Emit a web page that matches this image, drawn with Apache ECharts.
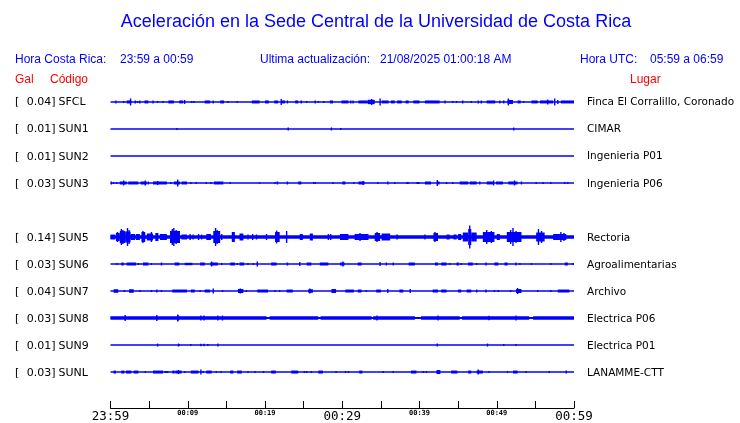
<!DOCTYPE html>
<html><head><meta charset="utf-8">
<script src="https://cdn.jsdelivr.net/npm/echarts@6/dist/echarts.min.js"></script>
<style>html,body{margin:0;padding:0;background:#fff}#c{width:740px;height:423px}</style>
</head><body><div id="c"></div>
<script>
// ---- data ----
var codes = ['SFCL','SUN1','SUN2','SUN3','SUN5','SUN6','SUN7','SUN8','SUN9','SUNL'];
var peaks = ['0.04','0.01','0.01','0.03','0.14','0.03','0.04','0.03','0.01','0.03'];
var places = ['Finca El Corralillo, Coronado','CIMAR','Ingenieria P01','Ingenieria P06','Rectoria','Agroalimentarias','Archivo','Electrica P06','Electrica P01','LANAMME-CTT'];
var slots = [0,1,2,3,5,6,7,8,9,10];            // trace row (row 4 = SUN4, absent)
var baseAmp = [0.8,0.8,0.8,0.8,1.7,0.8,0.8,1.0,0.8,0.8];
var tickMinutes = [0,5,10,15,20,25,30,35,40,45,50,55,60];
var tickLabels = ['23:59','','00:09','','00:19','','00:29','','00:39','','00:49','','00:59'];
// envelope events per station: [t,a] spike, [t0,t1,a] burst (minutes, half-amplitude)
var evSFCL = [[0.7,1.5],[1.7,1],[2.1,2.7,1.5],[2.6,3.5],[3.2,1.5],[3.5,1],[3.8,1.5],[4.4,4.9,1.5],[5.5,1.5],[6.1,1],[6.8,1],[7.5,8.2,1.5],[8.9,9.4,1.5],[9.6,2],[10.5,1],[10.8,1],[12.2,12.9,1.5],[13.3,1.5],[14.2,14.7,1.5],[15.2,1],[16.4,1],[18.3,19.3,1.5],[20,20.5,1.5],[21.2,21.7,1.5],[22.1,22.6,1.5],[22.1,3],[22.9,1.5],[23.9,24.3,1.5],[24.6,24.8,1.5],[25.4,1],[26.5,1.5],[26.9,1],[27.6,1],[28.4,28.8,1.5],[29.9,30.8,1.5],[31.1,1.5],[31.4,1.5],[32.1,33.3,1.5],[33.3,34.2,2.2],[33.8,3],[34.9,3.5],[35.1,36,1.5],[36.3,36.8,1.5],[37.1,37.7,1.5],[38.2,38.6,1.5],[39.2,40.0,1.5],[40.7,42.6,1.5],[43.3,1.5],[44.3,1],[44.8,1],[45.6,1.5],[46.7,1],[47.6,1.5],[48,1.5],[48.7,49.8,1.5],[50.4,1.5],[50.8,51.0,1.5],[51.4,52.1,2],[51.5,3.5],[52.7,53.1,1.5],[53.5,1],[54.5,55.3,1.5],[55.6,57.3,1.5],[56.6,2.5],[57.5,3.5],[57.9,2],[58.3,60,1.5]];
var evSUN1 = [[8.6,1],[23.0,1.5],[28.6,1.5],[29.8,1],[52.2,1.5]];
var evSUN2 = [];
var evSUN3 = [[0.1,1.5],[0.4,1],[0.8,1],[1.2,2.1,1.5],[1.7,2.5],[2.3,3.6,1.5],[3.9,4.7,1.5],[4.5,2.5],[4.9,1.5],[5.5,7.3,1.5],[6.1,2],[7.7,7.9,1],[8.2,9,1.5],[8.7,3.5],[9.2,9.9,1.5],[10.4,1],[11.1,1],[12.4,1],[13,1],[13.4,14.6,1.5],[15.5,1],[19.3,0.8],[21.3,1],[21.5,21.7,1.5],[22.9,1.5],[24.3,24.7,1.5],[26.3,1],[26.5,1],[28.8,1],[30.0,30.4,1.5],[31.5,1],[32.1,32.9,1.5],[32.7,2],[34.6,1],[35.9,1.5],[36.8,1],[38.3,38.6,1],[39.6,40.0,1],[40.7,41.5,1.5],[42.3,42.6,1.5],[42.3,3],[43.5,1],[44.3,1],[45.2,46.3,1.5],[46.5,47.4,1.5],[47.8,1.5],[48.7,49.5,1.5],[49.6,2.5],[49.9,50.8,1.5],[51.5,52.7,1.5],[52.3,2.5],[53.2,1.5],[55.1,1],[56,1],[57,1],[58.8,1],[59.2,1]];
var evSUN5 = [[0,0.6,2.5],[0.7,1.2,4],[0.9,5],[1.2,1.9,6],[1.4,8],[1.6,7],[1.9,2.6,5.5],[2.2,9],[2.4,7],[2.6,3.2,3],[3.3,3.8,3],[4.0,4.5,5],[4.2,6],[4.7,5.5,3.5],[5.3,5],[5.8,6.2,4],[6.4,7.3,3],[7.7,9.0,6],[8.0,8],[8.2,9],[8.5,7],[9.2,9.9,2.5],[10.3,3],[10.7,2.5],[11.4,3],[11.8,2.5],[12.4,13.0,3],[13.3,14.2,6],[13.6,9],[13.8,7],[14.4,3],[15.7,16.1,5],[16.7,17.2,3.5],[17.8,2.5],[18.4,3],[18.9,2.5],[20.2,3],[21.3,21.9,5],[21.5,6.5],[22.8,6],[24.5,24.9,3],[25.8,26.2,3.5],[28.2,3],[28.5,3],[29.7,30.8,3],[31.6,33.4,3],[32.3,4],[34.2,34.9,4],[34.5,5],[35.1,36.2,3.5],[37,37.2,2.5],[40.7,2.5],[41.8,42.4,4],[42.0,5],[43.5,43.9,2.5],[44.4,44.8,2.5],[45,45.4,3],[45.6,46.3,4.5],[46.3,46.7,8],[46.5,11.5],[46.7,47.4,4.5],[48.2,49.7,5],[48.7,7],[49.3,6],[50,50.4,3],[51.3,53.2,5],[51.8,7],[52.1,9],[52.5,6],[55.1,56.2,4.5],[55.4,8],[55.8,6],[57.3,59,3],[58.3,5],[58.7,4]];
var evSUN6 = [[0.8,1],[1.4,1.7,1.5],[2.1,3.3,1.5],[3.6,1],[4.2,4.9,1.5],[5.3,1],[6.6,1.5],[8.3,8.9,1.5],[9.6,10.6,1.2],[11.6,12.2,1.5],[12.9,13.9,1.5],[13.1,2.5],[14.4,1],[15.5,16.1,1.5],[16.4,1],[16.7,17.3,1.5],[17.8,1],[18.5,1],[19.0,2.5],[20.8,21.5,1.5],[22.8,23,1.5],[24.5,2],[25.4,26.0,1.5],[27.1,28.2,1.5],[29.7,30.3,1.5],[30.1,2.5],[32.0,32.5,1.5],[34.9,2],[35.7,1.5],[36.6,1.5],[38.6,39.4,1.5],[42,42.4,1.5],[42.8,43.5,1.5],[43.9,1],[44.8,45.1,1.5],[45.4,1],[46.3,46.9,1.5],[47.4,1],[48.6,1.5],[49.7,50.2,1.5],[51,51.4,1.5],[52.5,1.5],[53,1],[54.5,1],[57,1],[58.8,59.2,1.5],[59.9,1]];
var evSUN7 = [[0.4,1.0,1.8],[1.8,1],[2.4,3.0,1.8],[3.8,1],[5.3,1],[6,1.5],[6.6,1],[8,9.9,1.5],[10.4,10.9,1.5],[11.6,1],[12.2,12.9,1.5],[13.3,2.5],[14.5,1],[16.5,17.2,2],[16.8,2.5],[17.6,1],[19,20.4,1.5],[21.3,1],[21.9,1],[22.8,23.6,1.5],[25.6,26.2,1.8],[25.8,2.5],[28.6,29.2,2],[30.4,31.5,1.5],[32,32.5,1.5],[33.1,1],[34.4,35,1.5],[35.9,2],[37.4,37.9,1.5],[38.8,2],[41.7,42.4,1.5],[42.8,43.5,1.5],[45,45.4,1.5],[46.1,46.7,1.5],[47.4,1.5],[48.6,1.5],[49.7,1],[50.2,1],[51.8,1],[52.5,53.2,2],[52.7,3],[55.3,1],[57,1],[57.9,59.4,1.5]];
var evSUN8 = [[0,20.2,1.8],[20.6,26.9,1.8],[27.2,33.8,1.8],[34,39.4,1.8],[40.2,45.2,1.8],[45.5,54.2,1.8],[54.7,60,1.8],[1.9,3],[6,3],[8.6,8.9,2.5],[8.7,3.5],[11.7,2.5],[12.1,2.5],[13.9,2.5],[14.5,2.5],[34.5,2.5],[42.4,2.5],[49,2.2],[52.5,2.5]];
var evSUN9 = [[6.1,1.5],[8.8,1.5],[8.9,1],[10.4,1],[11.7,1.2],[12.1,1.2],[12.6,1],[13.9,1.5],[42.3,1.5],[48.8,1.5],[50.9,1],[52.5,1]];
var evSUNL = [[0.4,0.7,1.5],[1.4,1.8,1.5],[2,2.7,1.5],[3,3.6,1.5],[4.5,1],[5.5,6.8,1.5],[7,7.5,1],[8,8.3,1.5],[8.4,9.2,1.5],[8.8,2],[9.6,1],[10.4,11.4,1.5],[11.7,2.5],[12,1],[12.4,13.1,1.5],[13.7,1],[14.3,1],[15.5,15.9,1.5],[16.4,17,1.5],[17.8,1],[18.7,1],[19.8,1],[20.8,21.4,1.5],[23.4,24.3,1.5],[25.1,1],[25.4,1],[26,1],[26.9,27.5,1.5],[29.2,1],[30.4,1],[30.8,1],[32.2,32.6,1.5],[35.3,1],[36.6,1],[38.9,39.6,1.5],[40.5,1],[40.9,1],[42.2,42.7,2],[44.1,44.9,1.5],[46.3,46.7,1.5],[47.4,48.2,1.5],[47.6,2.5],[49,1],[51.4,1],[52.1,52.7,1.5],[53.8,1],[56.8,1],[59,1.5]];
var events = [evSFCL,evSUN1,evSUN2,evSUN3,evSUN5,evSUN6,evSUN7,evSUN8,evSUN9,evSUNL];

// ---- layout constants ----
var ROW0 = 14, ROWSTEP = 27.1;  // y-axis units (1 unit ~ 1 px)
var BLUE = '#0000ff';

function renderItem(params, api){
  var t0 = api.value(0), t1 = api.value(1), a = api.value(2), b = api.value(3);
  var p0 = api.coord([t0, b - a]);
  var p1 = api.coord([t1, b + a]);
  var w = p1[0] - p0[0], x = p0[0];
  if (w < 1.4) { x = (p0[0] + p1[0]) / 2 - 0.7; w = 1.4; }
  var y = Math.min(p0[1], p1[1]), h = Math.abs(p1[1] - p0[1]);
  return {type:'rect', shape:{x:x, y:y, width:w, height:h}, style:{fill:BLUE}};
}

var series = codes.map(function(code, i){
  var b = ROW0 + slots[i] * ROWSTEP;
  var data = [[0, 60, baseAmp[i], b]];
  events[i].forEach(function(e){
    if (e.length === 3) data.push([e[0], e[1], e[2], b]);
    else data.push([e[0], e[0], e[1], b]);
  });
  return {type:'custom', name:code, renderItem:renderItem, data:data, silent:true, animation:false,
          encode:{x:[0,1], y:[2]}, clip:false};
});

var graphics = [];
function t2(x, y, s, font, color, align){
  graphics.push({type:'text', x:x, y:y, style:{text:s, font:font, fill:color, align:align||'left', verticalAlign:'middle'}, silent:true});
}
var HF = '12px "Liberation Sans", Arial, sans-serif';
t2(376, 22, 'Aceleración en la Sede Central de la Universidad de Costa Rica', '18px "Liberation Sans", Arial, sans-serif', BLUE, 'center');
t2(15, 60, 'Hora Costa Rica:', HF, BLUE);
t2(120, 60, '23:59 a 00:59', HF, BLUE);
t2(260, 60, 'Ultima actualización:', HF, BLUE);
t2(380, 60, '21/08/2025 01:00:18 AM', HF, BLUE);
t2(580, 60, 'Hora UTC:', HF, BLUE);
t2(650, 60, '05:59 a 06:59', HF, BLUE);
t2(15, 80, 'Gal', HF, '#ff0000');
t2(50, 80, 'Código', HF, '#ff0000');
t2(630, 80, 'Lugar', HF, '#ff0000');
var SF = '11px "DejaVu Sans", sans-serif';
var PF = '10.5px "DejaVu Sans", sans-serif';
codes.forEach(function(code, i){
  var y = 88.5 + ROW0 + slots[i] * ROWSTEP;
  t2(15, y, '[', SF, '#000');
  t2(55.5, y, peaks[i] + ']', SF, '#000', 'right');
  t2(58.5, y, code, SF, '#000');
  t2(587, y, places[i], PF, '#000');
});

var chart = echarts.init(document.getElementById('c'), null, {renderer:'canvas'});
chart.setOption({
  animation:false,
  backgroundColor:'#fff',
  grid:{left:110.5, right:166, top:88, bottom:35},
  xAxis:{type:'value', min:0, max:60, interval:5, position:'bottom', offset:21,
    axisLine:{show:true, onZero:false, lineStyle:{color:'#000', width:1}},
    axisTick:{show:true, inside:true, length:7, lineStyle:{color:'#000'}},
    splitLine:{show:false},
    axisLabel:{margin:2, formatter:function(v){
        var s = tickLabels[tickMinutes.indexOf(v)] || '';
        if (!s) return '';
        return (v % 30 === 0) ? '{big|' + s + '}' : '{sm|' + s + '}';
      },
      rich:{big:{fontFamily:'"DejaVu Sans Mono", monospace', fontSize:12.5, color:'#000'},
            sm:{fontFamily:'"DejaVu Sans Mono", monospace', fontSize:7, fontWeight:'bold', color:'#000'}}}
  },
  yAxis:{type:'value', min:0, max:300, inverse:true, show:false},
  series:series,
  graphic:{elements:graphics}
});
</script></body></html>
